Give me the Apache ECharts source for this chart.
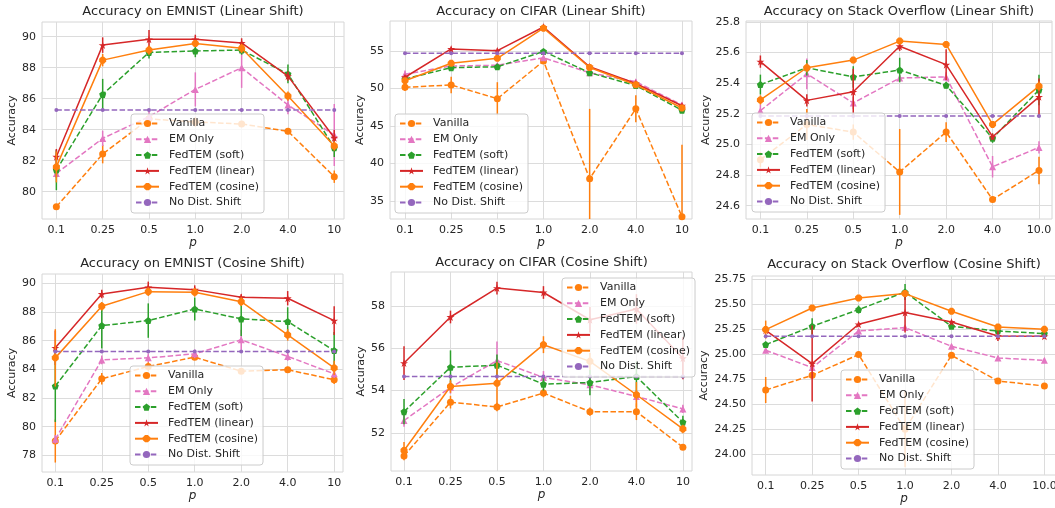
<!DOCTYPE html>
<html>
<head>
<meta charset="utf-8">
<script src="https://cdn.jsdelivr.net/npm/echarts@6/dist/echarts.min.js"></script>
<style>
html,body{margin:0;padding:0;background:#fff;}
#chart{width:1055px;height:508px;}
</style>
</head>
<body>
<div id="chart"></div>
<script>
// x 轴刻度
const xLabels = ['0.1', '0.25', '0.5', '1.0', '2.0', '4.0', '10'];
const xLabelsSO = ['0.1', '0.25', '0.5', '1.0', '2.0', '4.0', '10.0'];
const xPos = [0, 1, 2, 3, 4, 5, 6];

// y 轴刻度
const emnistLinTicks = [80, 82, 84, 86, 88, 90];
const cifarLinTicks = [35, 40, 45, 50, 55];
const soLinTicks = [24.6, 24.8, 25.0, 25.2, 25.4, 25.6, 25.8];
const emnistCosTicks = [78, 80, 82, 84, 86, 88, 90];
const cifarCosTicks = [52, 54, 56, 58];
const soCosTicks = [24.00, 24.25, 24.50, 24.75, 25.00, 25.25, 25.50, 25.75];

const names = ['Vanilla', 'EM Only', 'FedTEM (soft)', 'FedTEM (linear)', 'FedTEM (cosine)', 'No Dist. Shift'];

// 每行顺序同 names
const emnistLinMean = [
  [79.03, 82.43, 84.7, 84.5, 84.37, 83.9, 80.97],
  [81.18, 83.44, 84.84, 86.6, 88.0, 85.6, 83.66],
  [81.4, 86.28, 88.99, 89.08, 89.14, 87.6, 82.84],
  [82.26, 89.46, 89.83, 89.83, 89.6, 87.46, 83.48],
  [81.6, 88.49, 89.14, 89.57, 89.25, 86.17, 82.95],
  [85.27, 85.27, 85.27, 85.27, 85.27, 85.27, 85.27]
];
const emnistLinErr = [
  [0.15, 0.6, 0.3, 0.3, 0.2, 0.2, 0.4],
  [0.3, 0.5, 0.4, 1.1, 1.3, 0.6, 2.0],
  [1.3, 1.0, 0.4, 0.4, 0.3, 0.6, 0.6],
  [0.5, 0.5, 0.6, 0.3, 0.3, 0.3, 0.5],
  [1.0, 0.4, 0.3, 0.2, 0.3, 0.3, 0.3],
  [0, 0, 0, 0, 0, 0, 0]
];

const cifarLinMean = [
  [50.16, 50.47, 48.64, 53.66, 37.98, 47.3, 32.9],
  [51.9, 53.0, 53.1, 54.1, 52.1, 50.9, 47.8],
  [51.27, 52.78, 52.9, 54.95, 52.1, 50.4, 47.1],
  [51.5, 55.27, 55.04, 58.2, 52.9, 50.67, 47.7],
  [51.04, 53.36, 54.02, 58.04, 52.8, 50.5, 47.4],
  [54.69, 54.69, 54.69, 54.69, 54.69, 54.69, 54.69]
];
const cifarLinErr = [
  [0.5, 1.1, 2.2, 0.3, 9.3, 1.8, 9.6],
  [0.5, 0.3, 0.3, 0.3, 0.3, 0.3, 0.3],
  [0.3, 0.3, 0.3, 0.3, 0.3, 0.3, 0.3],
  [0.3, 0.3, 0.3, 0.3, 0.3, 0.3, 0.3],
  [0.3, 0.3, 0.3, 0.3, 0.3, 0.3, 0.3],
  [0, 0, 0, 0, 0, 0, 0]
];

const soLinMean = [
  [24.9, 25.13, 25.08, 24.82, 25.08, 24.64, 24.83],
  [25.22, 25.46, 25.27, 25.433, 25.44, 24.854, 24.98],
  [25.39, 25.5, 25.44, 25.485, 25.385, 25.04, 25.355],
  [25.54, 25.287, 25.343, 25.64, 25.52, 25.05, 25.31],
  [25.29, 25.5, 25.55, 25.674, 25.652, 25.13, 25.38],
  [25.185, 25.185, 25.185, 25.185, 25.185, 25.185, 25.185]
];
const soLinErr = [
  [0.05, 0.1, 0.05, 0.28, 0.065, 0.02, 0.09],
  [0.04, 0.1, 0.04, 0.02, 0.03, 0.07, 0.04],
  [0.065, 0.05, 0.07, 0.08, 0.02, 0.03, 0.1],
  [0.04, 0.04, 0.15, 0.03, 0.1, 0.02, 0.12],
  [0.03, 0.03, 0.02, 0.02, 0.02, 0.02, 0.03],
  [0, 0, 0, 0, 0, 0, 0]
];

const emnistCosMean = [
  [79.0, 83.34, 84.2, 84.85, 83.87, 83.97, 83.27],
  [79.12, 84.66, 84.8, 85.08, 86.06, 84.9, 83.69],
  [82.83, 87.05, 87.4, 88.21, 87.52, 87.33, 85.31],
  [85.5, 89.26, 89.72, 89.56, 89.03, 88.96, 87.4],
  [84.8, 88.4, 89.42, 89.37, 88.72, 86.4, 84.1],
  [85.24, 85.24, 85.24, 85.24, 85.24, 85.24, 85.24]
];
const emnistCosErr = [
  [1.5, 0.4, 0.3, 0.2, 0.2, 0.2, 0.3],
  [0.3, 0.3, 0.3, 0.3, 0.7, 0.3, 0.3],
  [2.5, 1.6, 1.2, 0.8, 1.2, 1.0, 1.3],
  [1.2, 0.3, 0.4, 0.3, 0.2, 0.5, 1.0],
  [2.0, 0.3, 0.3, 0.3, 0.3, 0.4, 0.5],
  [0, 0, 0, 0, 0, 0, 0]
];

const cifarCosMean = [
  [50.9, 53.45, 53.22, 53.88, 53.0, 53.0, 51.32],
  [52.58, 54.15, 55.42, 54.62, 54.27, 53.72, 53.13],
  [53.0, 55.1, 55.2, 54.3, 54.38, 54.66, 52.5],
  [55.3, 57.48, 58.85, 58.64, 57.35, 57.86, 55.53],
  [51.16, 54.19, 54.34, 56.17, 55.38, 53.8, 52.18],
  [54.66, 54.66, 54.66, 54.66, 54.66, 54.66, 54.66]
];
const cifarCosErr = [
  [0.2, 0.3, 0.2, 0.2, 0.2, 0.4, 0.1],
  [0.3, 0.3, 0.9, 0.3, 0.3, 0.3, 0.2],
  [0.6, 0.8, 0.5, 0.3, 0.6, 0.7, 0.3],
  [0.8, 0.3, 0.3, 0.3, 0.6, 0.7, 1.0],
  [0.4, 0.3, 1.0, 0.4, 0.4, 0.6, 0.2],
  [0, 0, 0, 0, 0, 0, 0]
];

const soCosMean = [
  [24.643, 24.79, 24.997, 24.25, 24.99, 24.733, 24.683],
  [25.04, 24.867, 25.233, 25.267, 25.08, 24.963, 24.94],
  [25.097, 25.28, 25.447, 25.623, 25.28, 25.233, 25.207],
  [25.24, 24.907, 25.30, 25.417, 25.323, 25.183, 25.18],
  [25.247, 25.463, 25.563, 25.607, 25.43, 25.273, 25.25],
  [25.18, 25.18, 25.18, 25.18, 25.18, 25.18, 25.18]
];
const soCosErr = [
  [0.13, 0.03, 0.02, 0.38, 0.02, 0.02, 0.02],
  [0.02, 0.02, 0.02, 0.02, 0.02, 0.02, 0.02],
  [0.02, 0.08, 0.04, 0.08, 0.02, 0.02, 0.02],
  [0.02, 0.38, 0.02, 0.2, 0.02, 0.05, 0.02],
  [0.09, 0.02, 0.02, 0.02, 0.02, 0.02, 0.02],
  [0, 0, 0, 0, 0, 0, 0]
];

// 样式
const colors = ['#ff7f0e', '#e377c2', '#2ca02c', '#d62728', '#ff7f0e', '#9467bd'];
const dashed = [true, true, true, false, false, true];
const STAR = 'path://M50,0 L61,35 L98,35 L68,57 L79,91 L50,70 L21,91 L32,57 L2,35 L39,35 Z';
const PENTA = 'path://M50,0 L98,36 L80,95 L20,95 L2,36 Z';
const OCTA = 'path://M30,0 L70,0 L100,30 L100,70 L70,100 L30,100 L0,70 L0,30 Z';
const symbols = ['circle', 'triangle', PENTA, STAR, OCTA, 'circle'];
const symbolSizes = [7, 7, 7, 8, 7, 4];

// 每个子图的位置
const panels = [
  {title: 'Accuracy on EMNIST (Linear Shift)', mean: emnistLinMean, err: emnistLinErr, ticks: emnistLinTicks, dec: 0, xl: xLabels,
   box: [42, 22, 302, 197], x: [-0.31, 6.21], y: [78.24, 90.95], legend: [131, 114], titleTop: 5, nameGap: 24},
  {title: 'Accuracy on CIFAR (Linear Shift)', mean: cifarLinMean, err: cifarLinErr, ticks: cifarLinTicks, dec: 0, xl: xLabels,
   box: [390, 21, 302, 198], x: [-0.325, 6.217], y: [32.6, 59.0], legend: [395, 114], titleTop: 5, nameGap: 24},
  {title: 'Accuracy on Stack Overflow (Linear Shift)', mean: soLinMean, err: soLinErr, ticks: soLinTicks, dec: 1, xl: xLabelsSO,
   box: [746, 21, 306, 198], x: [-0.31, 6.28], y: [24.513, 25.805], legend: [752, 113], titleTop: 5, nameGap: 33},
  {title: 'Accuracy on EMNIST (Cosine Shift)', mean: emnistCosMean, err: emnistCosErr, ticks: emnistCosTicks, dec: 0, xl: xLabels,
   box: [42, 274, 301, 198], x: [-0.286, 6.19], y: [76.84, 90.65], legend: [130, 366], titleTop: 257, nameGap: 24},
  {title: 'Accuracy on CIFAR (Cosine Shift)', mean: cifarCosMean, err: cifarCosErr, ticks: cifarCosTicks, dec: 0, xl: xLabels,
   box: [391, 272, 301, 199], x: [-0.28, 6.196], y: [50.19, 59.61], legend: [562, 278], titleTop: 256, nameGap: 24},
  {title: 'Accuracy on Stack Overflow (Cosine Shift)', mean: soCosMean, err: soCosErr, ticks: soCosTicks, dec: 2, xl: xLabelsSO,
   box: [752, 276, 304, 199], x: [-0.295, 6.25], y: [23.793, 25.783], legend: [841, 370], titleTop: 258, nameGap: 42}
];

function errRenderer(color) {
  return function (params, api) {
    const cs = params.coordSys;
    const a = api.coord([api.value(0), api.value(1)]);
    const b = api.coord([api.value(0), api.value(2)]);
    const clamp = y => Math.min(Math.max(y, cs.y), cs.y + cs.height);
    return {
      type: 'line',
      shape: {x1: a[0], y1: clamp(a[1]), x2: b[0], y2: clamp(b[1])},
      style: {stroke: color, lineWidth: 1.5}
    };
  };
}

const textColor = '#262626';
const grids = [], xAxes = [], yAxes = [], titles = [], legends = [], series = [];

panels.forEach((p, gi) => {
  grids.push({
    left: p.box[0], top: p.box[1], width: p.box[2], height: p.box[3],
    show: true, borderColor: '#d6d6d6', borderWidth: 1, backgroundColor: '#fff',
    containLabel: false, outerBoundsMode: 'none'
  });
  titles.push({
    text: p.title, left: p.box[0] + p.box[2] / 2, top: p.titleTop, textAlign: 'center', padding: 0,
    textStyle: {fontSize: 13, fontWeight: 'normal', color: textColor, fontFamily: 'DejaVu Sans'}
  });
  xAxes.push({
    gridIndex: gi, type: 'value', min: p.x[0], max: p.x[1],
    axisLine: {show: false},
    axisTick: {show: false, customValues: xPos},
    axisLabel: {customValues: xPos, formatter: v => p.xl[Math.round(v)], color: textColor, fontSize: 11, margin: 6},
    splitLine: {show: true, lineStyle: {color: '#dcdcdc', width: 1}},
    name: 'p', nameLocation: 'middle', nameGap: 16,
    nameTextStyle: {fontStyle: 'italic', fontSize: 12, color: textColor}
  });
  yAxes.push({
    gridIndex: gi, type: 'value', min: p.y[0], max: p.y[1],
    axisLine: {show: false},
    axisTick: {show: false, customValues: p.ticks},
    axisLabel: {customValues: p.ticks, formatter: v => v.toFixed(p.dec), color: textColor, fontSize: 11, margin: 6},
    splitLine: {show: true, lineStyle: {color: '#dcdcdc', width: 1}},
    name: 'Accuracy', nameLocation: 'middle', nameGap: p.nameGap,
    nameTextStyle: {fontSize: 11, color: textColor}
  });
  legends.push({
    left: p.legend[0], top: p.legend[1], orient: 'vertical', data: names, selectedMode: false,
    itemWidth: 23, itemHeight: 9, itemGap: 3.8, padding: [3.5, 5, 4.5, 4],
    backgroundColor: 'rgba(255,255,255,0.8)', borderColor: '#cccccc', borderWidth: 1, borderRadius: 3,
    textStyle: {fontSize: 11, color: textColor, lineHeight: 12, padding: [0, 0, 0, 5]},
    z: 20
  });
  names.forEach((n, k) => {
    const mean = p.mean[k], err = p.err[k];
    if (k < 5) {
      series.push({
        type: 'custom', xAxisIndex: gi, yAxisIndex: gi, z: 2 + k, silent: true,
        data: mean.map((v, i) => [xPos[i], v - err[i], v + err[i]]),
        renderItem: errRenderer(colors[k])
      });
    }
    series.push({
      type: 'line', name: n, xAxisIndex: gi, yAxisIndex: gi, z: 2 + k,
      data: mean.map((v, i) => [xPos[i], v]),
      symbol: symbols[k], symbolSize: symbolSizes[k], showSymbol: true,
      itemStyle: {color: colors[k]},
      lineStyle: {color: colors[k], width: 1.5, type: dashed[k] ? [5.5, 2.4] : 'solid'},
      emphasis: {disabled: true}
    });
  });
});

const myChart = echarts.init(document.getElementById('chart'));
myChart.setOption({
  animation: false,
  textStyle: {fontFamily: 'DejaVu Sans'},
  title: titles,
  legend: legends,
  grid: grids,
  xAxis: xAxes,
  yAxis: yAxes,
  series: series
});
</script>
</body>
</html>
